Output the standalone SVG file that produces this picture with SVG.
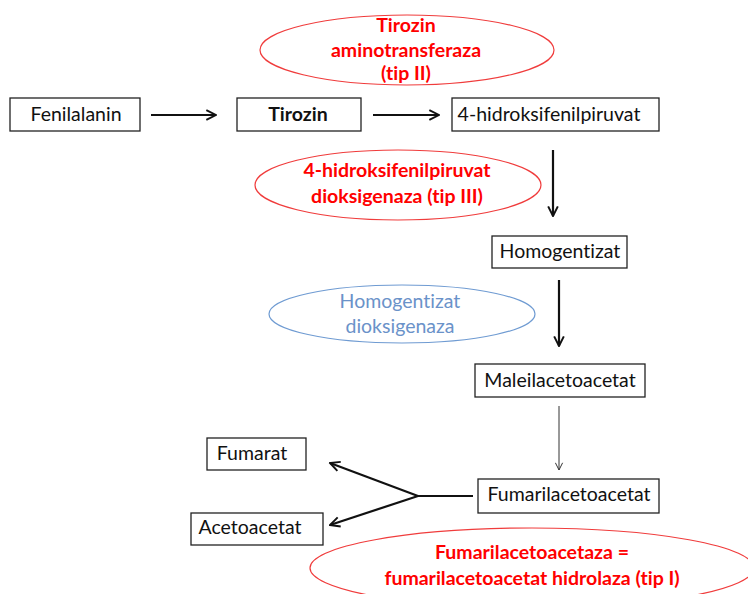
<svg xmlns="http://www.w3.org/2000/svg" width="748" height="594" viewBox="0 0 748 594">
<defs>
<style>
text{font-family:Lato,"Open Sans",sans-serif;font-size:19.5px;text-anchor:middle;font-variant-ligatures:none;font-feature-settings:"liga" 0}
.box{fill:#fff;stroke:#222;stroke-width:1.3}
.t{fill:#111}
.b{font-weight:bold}
.red{font-weight:bold;fill:#ff0000}
.blue{fill:#6a92c9}
.er{fill:none;stroke:#f03c3c;stroke-width:1.2}
.eb{fill:none;stroke:#6f9bd2;stroke-width:1.2}
.c{fill:none;stroke:#111;stroke-width:2.2}
.thin{fill:none;stroke:#333;stroke-width:1}
</style>
<marker id="ah" viewBox="0 0 10 10" refX="9" refY="5" markerWidth="5.5" markerHeight="5.5" markerUnits="strokeWidth" orient="auto">
<path d="M1,1 L9,5 L1,9" fill="none" stroke="#111" stroke-width="1.6"/>
</marker>
<marker id="ahThin" viewBox="0 0 10 10" refX="9" refY="5" markerWidth="9" markerHeight="9" markerUnits="strokeWidth" orient="auto">
<path d="M1,1 L9,5 L1,9" fill="none" stroke="#333" stroke-width="1.1"/>
</marker>
</defs>
<rect width="748" height="594" fill="#fff"/>
<g id="enzymes">
<g id="e1"><ellipse class="er" cx="407" cy="50" rx="147" ry="35"/>
<text class="red" x="406" y="32">Tirozin</text>
<text class="red" x="406" y="57">aminotransferaza</text>
<text class="red" x="406" y="80">(tip II)</text></g>
<g id="e2"><ellipse class="er" cx="398" cy="185" rx="143" ry="35"/>
<text class="red" x="397" y="177">4-hidroksifenilpiruvat</text>
<text class="red" x="397" y="203">dioksigenaza (tip III)</text></g>
<g id="e3"><ellipse class="eb" cx="402" cy="314" rx="133" ry="29"/>
<text class="blue" x="400" y="308">Homogentizat</text>
<text class="blue" x="400" y="333">dioksigenaza</text></g>
<g id="e4"><ellipse class="er" cx="532" cy="568" rx="222" ry="40"/>
<text class="red" x="532" y="559">Fumarilacetoacetaza =</text>
<text class="red" x="532" y="585">fumarilacetoacetat hidrolaza (tip I)</text></g>
</g>
<g id="n1"><rect class="box" x="10" y="98" width="130" height="33"/><text class="t" x="76" y="121">Fenilalanin</text></g>
<g id="n2"><rect class="box" x="237" y="98" width="124" height="33"/><text class="t b" x="298" y="121">Tirozin</text></g>
<g id="n3"><rect class="box" x="452" y="98" width="207" height="33"/><text class="t" x="549" y="121">4-hidroksifenilpiruvat</text></g>
<g id="n4"><rect class="box" x="492" y="236" width="135" height="32"/><text class="t" x="560" y="258">Homogentizat</text></g>
<g id="n5"><rect class="box" x="475" y="364" width="170" height="33"/><text class="t" x="560" y="387">Maleilacetoacetat</text></g>
<g id="n6"><rect class="box" x="478" y="479" width="181" height="34"/><text class="t" x="569" y="501">Fumarilacetoacetat</text></g>
<g id="n7"><rect class="box" x="207" y="438" width="99" height="32"/><text class="t" x="252" y="460">Fumarat</text></g>
<g id="n8"><rect class="box" x="191" y="513" width="132" height="32"/><text class="t" x="250" y="534">Acetoacetat</text></g>
<g id="connectors">
<line class="c" x1="151" y1="115" x2="216" y2="115" marker-end="url(#ah)"/>
<line class="c" x1="373" y1="115" x2="439" y2="115" marker-end="url(#ah)"/>
<line class="c" x1="553" y1="150" x2="553" y2="216" marker-end="url(#ah)"/>
<line class="c" x1="559" y1="280" x2="559" y2="346" marker-end="url(#ah)"/>
<line class="thin" x1="559" y1="406" x2="559" y2="470" marker-end="url(#ahThin)"/>
<line class="c" x1="473" y1="496" x2="418" y2="496"/>
<line class="c" x1="418" y1="496" x2="330" y2="463" marker-end="url(#ah)"/>
<line class="c" x1="418" y1="496" x2="330" y2="525" marker-end="url(#ah)"/>
</g>
</svg>
